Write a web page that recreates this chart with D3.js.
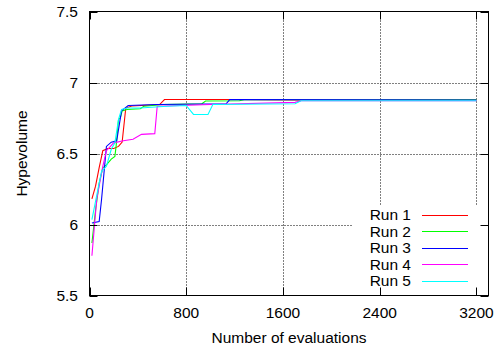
<!DOCTYPE html>
<html>
<head>
<meta charset="utf-8">
<script src="https://cdn.jsdelivr.net/npm/d3@7"></script>
<style>
	body { margin: 0; background: #fff; }
	svg { display: block; font-family: "Liberation Sans", Arial, sans-serif; }
</style>
</head>
<body>
<svg id="chart" width="503" height="349"></svg>
<script>
// values: [evaluations, hypervolume]
const run1 = [[20, 6.18], [50, 6.27], [80, 6.40], [110, 6.52], [150, 6.535], [200, 6.535], [240, 6.55], [270, 6.58], [300, 6.82], [350, 6.835], [580, 6.845], [620, 6.88], [1200, 6.88], [2000, 6.875], [3200, 6.875]];
const run2 = [[20, 5.87], [50, 6.10], [80, 6.29], [110, 6.40], [140, 6.42], [180, 6.46], [210, 6.48], [220, 6.55], [240, 6.74], [255, 6.75], [270, 6.80], [310, 6.81], [420, 6.815], [450, 6.833], [610, 6.845], [930, 6.85], [960, 6.87], [1240, 6.872], [1280, 6.878], [3200, 6.878]];
const run3 = [[20, 6.01], [80, 6.02], [100, 6.18], [140, 6.55], [180, 6.58], [225, 6.59], [265, 6.80], [320, 6.838], [560, 6.845], [1130, 6.85], [1160, 6.88], [3200, 6.876]];
const run4 = [[20, 5.78], [60, 6.18], [110, 6.41], [140, 6.52], [200, 6.575], [280, 6.59], [360, 6.60], [430, 6.635], [540, 6.64], [560, 6.833], [750, 6.838], [1000, 6.845], [1700, 6.86], [1750, 6.872], [3200, 6.872]];
const run5 = [[20, 6.035], [70, 6.25], [100, 6.375], [140, 6.41], [180, 6.53], [210, 6.575], [240, 6.74], [265, 6.81], [310, 6.82], [420, 6.82], [640, 6.833], [800, 6.838], [860, 6.775], [980, 6.775], [1020, 6.845], [1700, 6.85], [1750, 6.872], [3200, 6.872]];

const runNames = ['Run 1', 'Run 2', 'Run 3', 'Run 4', 'Run 5'];
const runColors = ['#ff0000', '#00ff00', '#0000ff', '#ff00ff', '#00ffff'];
const xTicks = [0, 800, 1600, 2400, 3200];
const yTicks = [5.5, 6, 6.5, 7, 7.5];

const svg = d3.select('#chart');
const plotLeft = 89.5, plotRight = 488.5, plotTop = 11.5, plotBottom = 295.5;
const fontSize = 15.5;

const x = d3.scaleLinear().domain([0, 3300]).range([plotLeft, plotRight]);
const y = d3.scaleLinear().domain([5.5, 7.5]).range([plotBottom, plotTop]);
const snap = v => Math.round(v) + 0.5;

// dotted grid
const grid = svg.append('g')
	.attr('stroke', '#000')
	.attr('stroke-width', 1)
	.attr('stroke-dasharray', '1,2');
xTicks.slice(1).forEach(t => {
	grid.append('line')
		.attr('class', 'grid-x')
		.attr('x1', snap(x(t)))
		.attr('x2', snap(x(t)))
		.attr('y1', plotTop)
		.attr('y2', plotBottom);
});
yTicks.slice(1, -1).forEach(t => {
	grid.append('line')
		.attr('class', 'grid-y')
		.attr('x1', plotLeft)
		.attr('x2', plotRight)
		.attr('y1', snap(y(t)))
		.attr('y2', snap(y(t)));
});

// key background hides the grid underneath
svg.append('rect')
	.attr('x', 352)
	.attr('y', 205)
	.attr('width', 130)
	.attr('height', 85)
	.attr('fill', '#fff');

// runs
const line = d3.line()
	.x(d => x(d[0]))
	.y(d => y(d[1]));
const runs = [run1, run2, run3, run4, run5];
svg.append('g')
	.selectAll('path')
	.data(runs)
	.enter().append('path')
		.attr('d', line)
		.attr('fill', 'none')
		.attr('stroke', (d, i) => runColors[i])
		.attr('stroke-width', 1.1);

// border and inward ticks on all four sides
const axes = svg.append('g').attr('stroke', '#000').attr('stroke-width', 1);
const tickLen = 8;
xTicks.forEach(t => {
	const px = snap(x(t));
	axes.append('line').attr('x1', px).attr('x2', px).attr('y1', plotBottom).attr('y2', plotBottom - tickLen);
	axes.append('line').attr('x1', px).attr('x2', px).attr('y1', plotTop).attr('y2', plotTop + tickLen);
});
yTicks.forEach(t => {
	const py = snap(y(t));
	axes.append('line').attr('x1', plotLeft).attr('x2', plotLeft + tickLen).attr('y1', py).attr('y2', py);
	axes.append('line').attr('x1', plotRight).attr('x2', plotRight - tickLen).attr('y1', py).attr('y2', py);
});
axes.append('rect')
	.attr('x', plotLeft)
	.attr('y', plotTop)
	.attr('width', plotRight - plotLeft)
	.attr('height', plotBottom - plotTop)
	.attr('fill', 'none');

// tick labels
xTicks.forEach(t => {
	svg.append('text')
		.attr('class', 'x-label')
		.attr('x', x(t))
		.attr('y', 318)
		.attr('text-anchor', 'middle')
		.attr('font-size', fontSize)
		.text(String(t));
});
yTicks.forEach(t => {
	svg.append('text')
		.attr('class', 'y-label')
		.attr('x', 78)
		.attr('y', y(t))
		.attr('dy', '0.36em')
		.attr('text-anchor', 'end')
		.attr('font-size', fontSize)
		.text(String(t));
});

// axis titles
svg.append('text')
	.attr('x', (plotLeft + plotRight) / 2)
	.attr('y', 343)
	.attr('text-anchor', 'middle')
	.attr('font-size', fontSize)
	.text('Number of evaluations');
svg.append('text')
	.attr('transform', `translate(27,${(plotTop + plotBottom) / 2}) rotate(-90)`)
	.attr('text-anchor', 'middle')
	.attr('font-size', fontSize)
	.text('Hypevolume');

// key
const key = svg.append('g');
runNames.forEach((name, i) => {
	const ky = 214.5 + i * 16.5;
	key.append('text')
		.attr('x', 411)
		.attr('y', ky)
		.attr('dy', '0.36em')
		.attr('text-anchor', 'end')
		.attr('font-size', fontSize)
		.text(name);
	key.append('line')
		.attr('x1', 422)
		.attr('x2', 468)
		.attr('y1', snap(ky))
		.attr('y2', snap(ky))
		.attr('stroke', runColors[i])
		.attr('stroke-width', 1.1);
});
</script>
</body>
</html>
